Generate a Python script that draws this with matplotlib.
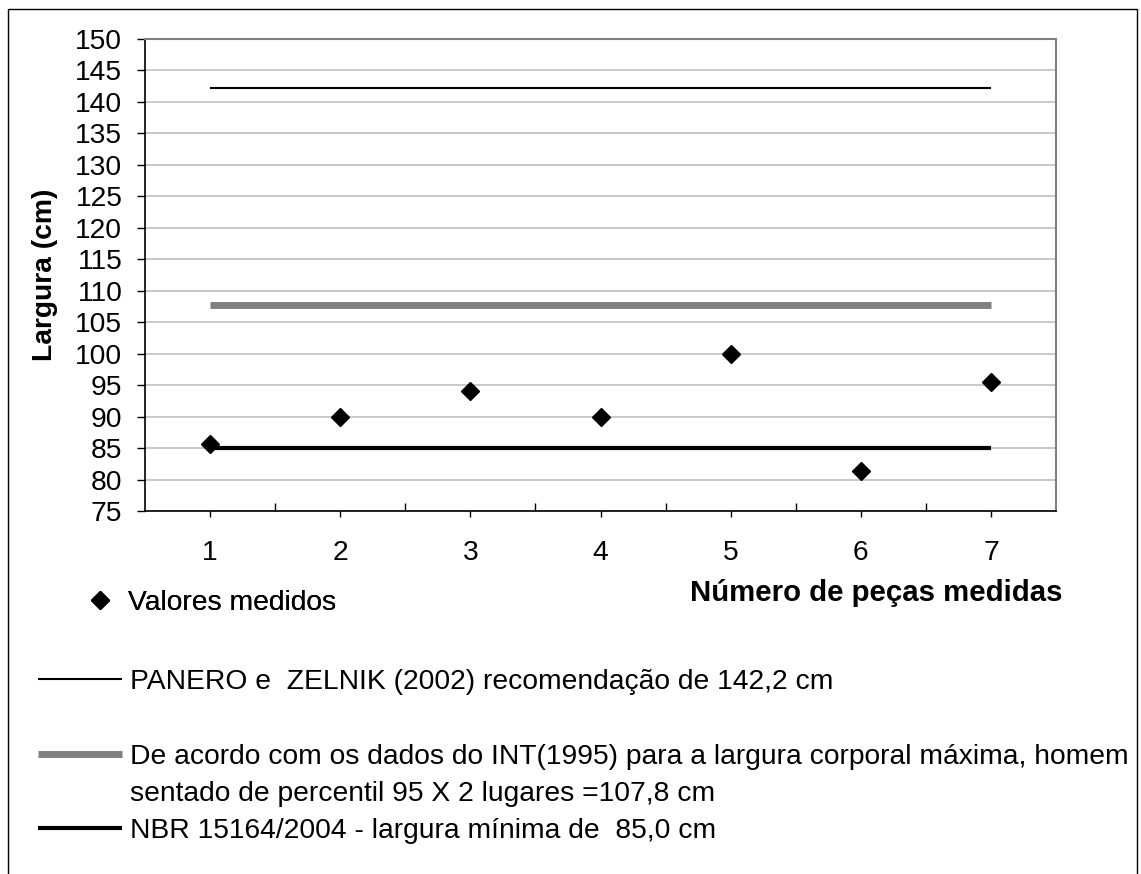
import matplotlib
matplotlib.use("Agg")
import matplotlib.pyplot as plt
from matplotlib.patches import Rectangle
from matplotlib.lines import Line2D
import numpy as np

plt.rcParams['font.family'] = ['Liberation Sans', 'DejaVu Sans']

# Data
pecas = [1, 2, 3, 4, 5, 6, 7]
valores_medidos = [85.6, 90.0, 94.0, 90.0, 100.0, 81.3, 95.5]
panero_zelnik = [142.2] * 7
int_1995 = [107.8] * 7
nbr_15164 = [85.0] * 7

lbl_valores = "Valores medidos"
lbl_panero = "PANERO e  ZELNIK (2002) recomendação de 142,2 cm"
lbl_int_1 = "De acordo com os dados do INT(1995) para a largura corporal máxima, homem"
lbl_int_2 = "sentado de percentil 95 X 2 lugares =107,8 cm"
lbl_nbr = "NBR 15164/2004 - largura mínima de  85,0 cm"

FS = 20.3
W, H = 1141, 874

fig = plt.figure(figsize=(W / 100, H / 100), dpi=100)
ax = fig.add_axes([145 / W, 1 - 511 / H, (1056 - 145) / W, (511 - 39) / H])

# series
l_panero, = ax.plot(pecas, panero_zelnik, color='black', lw=1.5, solid_capstyle='butt', zorder=3)
l_int, = ax.plot(pecas, int_1995, color='#808080', lw=5, solid_capstyle='butt', zorder=3)
l_nbr, = ax.plot(pecas, nbr_15164, color='black', lw=3, solid_capstyle='butt', zorder=3)
l_val, = ax.plot(pecas, valores_medidos, linestyle='none', marker='D', markersize=9.3,
                 color='black', markeredgewidth=1, zorder=4)

# axes
ax.set_xlim(0.5, 7.5)
ax.set_ylim(75, 150)
ax.set_yticks(np.arange(75, 151, 5))
ax.set_xticks(pecas)
ax.set_xticks(np.arange(1.5, 7, 1), minor=True)
ax.tick_params(axis='y', direction='out', length=5.8, width=1, pad=10.5, labelsize=FS)
ax.tick_params(axis='x', which='major', direction='out', length=4.3, width=1, pad=16.5, labelsize=FS)
ax.tick_params(axis='x', which='minor', direction='in', length=5.5, width=1)
ax.yaxis.grid(True, color='#c0c0c0', lw=1.2)
ax.set_axisbelow(True)
for s in ['top', 'right']:
    ax.spines[s].set_color('#808080')
    ax.spines[s].set_linewidth(1.5)
for s in ['left', 'bottom']:
    ax.spines[s].set_color('black')
    ax.spines[s].set_linewidth(1.2)

ax.set_ylabel("Largura (cm)", fontsize=FS, fontweight='bold')
ax.yaxis.set_label_coords((58 - 145) / 911, 0.5)
ax.set_xlabel("Número de peças medidas", fontsize=21.2, fontweight='bold', loc='right')
ax.xaxis.set_label_coords((1062 - 145) / 911, -0.145)

# legends
leg1 = fig.legend([l_val], [lbl_valores], loc='center left',
                  bbox_to_anchor=(80 / W, 1 - 603 / H), frameon=False, fontsize=FS,
                  borderpad=0, borderaxespad=0, handlelength=1.4, handletextpad=0.3,
                  numpoints=1)
blank = Line2D([], [], linestyle='none')
leg2 = fig.legend([l_panero, blank, l_int, blank, l_nbr],
                  [lbl_panero, " ", lbl_int_1, lbl_int_2, lbl_nbr],
                  loc='upper left', bbox_to_anchor=(38 / W, 1 - 669 / H), frameon=False,
                  fontsize=FS, borderpad=0, borderaxespad=0, handlelength=2.97,
                  handletextpad=0.3, labelspacing=0.40)
fig.add_artist(leg1)

# outer frame
fig.add_artist(Rectangle((8 / W, -0.1), (1137 - 8) / W, 1.1 - 9 / H,
                         transform=fig.transFigure, fill=False, edgecolor='black', lw=1))

fig.savefig("out.png", dpi=100)
